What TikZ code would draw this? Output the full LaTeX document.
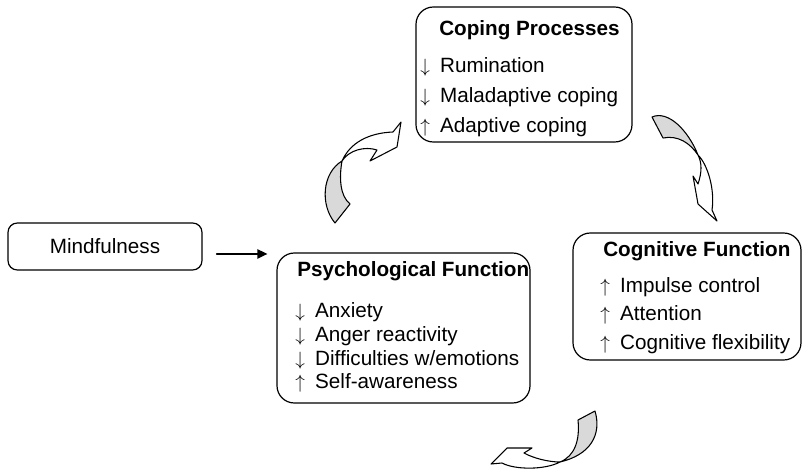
\documentclass[tikz,border=0pt]{standalone}
\usepackage{fontspec}
\setmainfont{Liberation Sans}
\usetikzlibrary{arrows.meta}
\definecolor{twist}{gray}{0.85}
\newcommand{\decr}{$\downarrow$\hspace{0.5em}}
\newcommand{\incr}{$\uparrow$\hspace{0.5em}}

\begin{document}
\begin{tikzpicture}[x=0.75pt,y=-0.75pt,line cap=round,line join=round,
  every node/.style={font=\fontsize{15.5}{18}\selectfont,inner sep=0pt},
  panel/.style={draw,line width=0.9pt,rounded corners=13pt},
  item/.style={anchor=base west},
  title/.style={anchor=base west,font=\fontsize{15.5}{18}\selectfont\bfseries},
  band/.style={draw,line width=0.8pt,fill=white},
  under/.style={draw,line width=0.8pt,fill=twist},
  feed/.style={line width=1pt,-{Triangle[length=7.5pt,width=7pt]}}]
  \useasboundingbox (0,0) rectangle (803,471);

  \node[panel,rounded corners=7pt,minimum width=145.5pt,minimum height=35.25pt] (mind) at (105,246.5) {Mindfulness};
  \node[panel,minimum width=162pt,minimum height=101.25pt] (cope) at (524,74.5) {};
  \node[panel,minimum width=189.75pt,minimum height=112.5pt] (psy) at (403.5,328) {};
  \node[panel,minimum width=171pt,minimum height=95.25pt] (cog) at (687,296.5) {};

  \node[title] (copeT) at (439,36) {Coping Processes};
  \node[item] (cope1) at (420,72) {\decr Rumination};
  \node[item] (cope2) at (420,102) {\decr Maladaptive coping};
  \node[item] (cope3) at (420,132) {\incr Adaptive coping};

  \node[title] (psyT) at (297,276) {Psychological Function};
  \node[item] (psy1) at (295,317) {\decr Anxiety};
  \node[item] (psy2) at (295,341) {\decr Anger reactivity};
  \node[item] (psy3) at (295,365) {\decr Difficulties w/emotions};
  \node[item] (psy4) at (295,388) {\incr Self-awareness};

  \node[title] (cogT) at (603,256) {Cognitive Function};
  \node[item] (cog1) at (600,292) {\incr Impulse control};
  \node[item] (cog2) at (600,320) {\incr Attention};
  \node[item] (cog3) at (600,349) {\incr Cognitive flexibility};

  \draw[feed,shorten <=10.5pt,shorten >=6.75pt] ([yshift=-5.6pt]mind.east) -- ([yshift=-5.6pt]mind.east -| psy.west);

  % twisted arrow up to coping
  \draw[under] (335,223) .. controls (320,205) and (322,173) .. (342,161)
    .. controls (339,178) and (340,196) .. (350,204) -- cycle;
  \draw[band] (342,161) .. controls (350,143) and (368,133) .. (393,132) -- (401,122) -- (397,147)
    -- (370,161) -- (377,150) .. controls (365,146) and (349,150) .. (342,161) -- cycle;

  % twisted arrow down to cognitive
  \draw[under] (652,117) .. controls (668,110) and (688,130) .. (698,155)
    .. controls (690,143) and (678,135) .. (663,138) -- cycle;
  \draw[band] (698,155) .. controls (708,165) and (715,190) .. (712,210) -- (717,221) -- (698,204)
    -- (693,176) -- (698,184) .. controls (702,172) and (702,163) .. (698,155) -- cycle;

  % twisted arrow back to the left
  \draw[under] (595,411) .. controls (602,435) and (590,455) .. (560,462)
    .. controls (575,456) and (580,440) .. (578,420) -- cycle;
  \draw[band] (560,462) .. controls (545,470) and (515,470) .. (502,463) -- (491,464) -- (507,448)
    -- (532,448) -- (524,453) .. controls (533,458) and (548,462) .. (560,462) -- cycle;
\end{tikzpicture}
\end{document}
